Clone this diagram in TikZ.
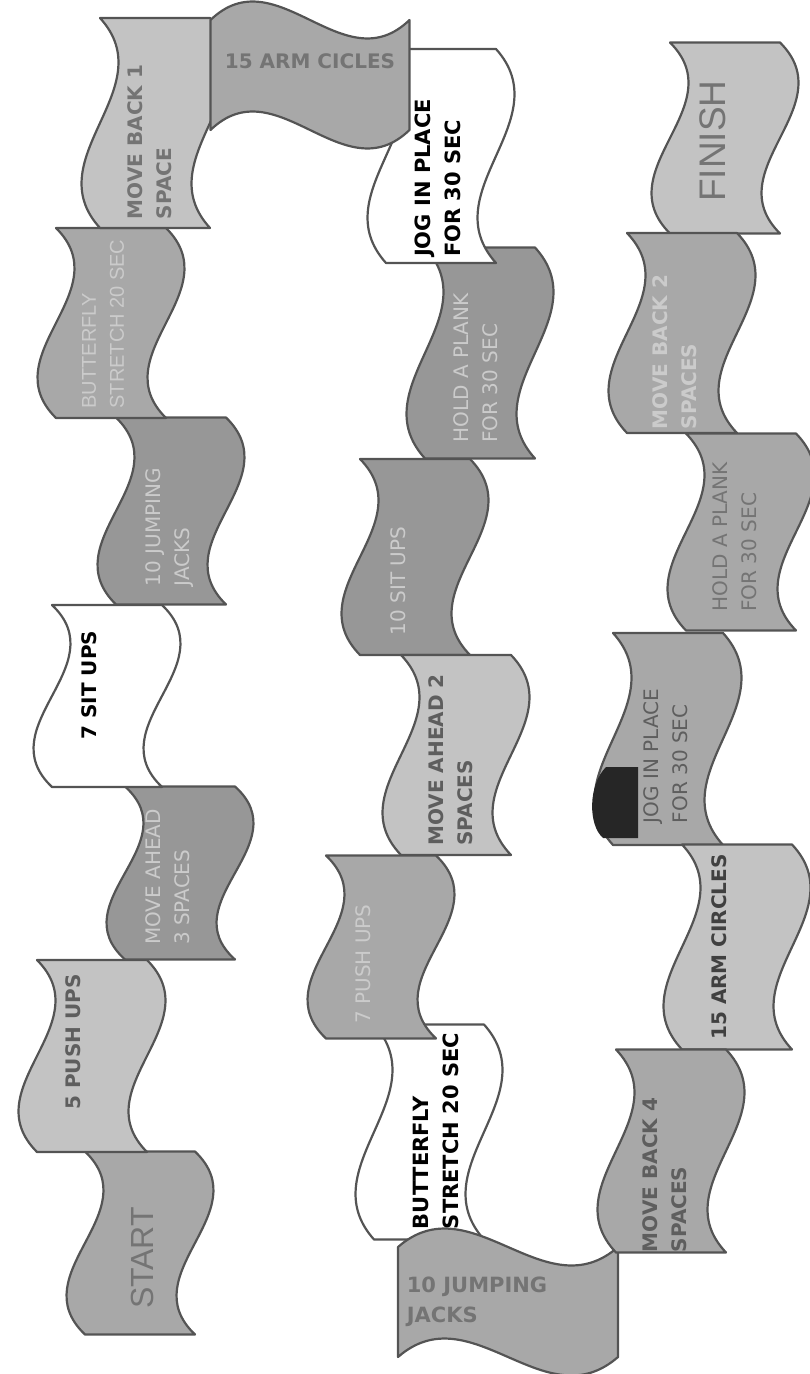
\documentclass[tikz,border=0pt]{standalone}
\usepackage{fontspec}
\setmainfont{DejaVu Sans}
\newfontfamily\arialfont{Liberation Sans}
\usepackage{tikz}

\definecolor{tileedge}{HTML}{545454}
\definecolor{greylight}{HTML}{C3C3C3}
\definecolor{greymid}{HTML}{A8A8A8}
\definecolor{greydark}{HTML}{979797}
\definecolor{inkdark}{HTML}{5E5E5E}
\definecolor{inkgrey}{HTML}{747474}
\definecolor{inklight}{HTML}{CBCBCB}

\newcommand{\tileh}{55}
\newcommand{\tilec}{64}
% one wavy square of the board: centre, turn, length, fill
\newcommand{\wavetile}[4]{%
  \begin{scope}[shift={#1},rotate=#2]
    \filldraw[tile,fill=#4] (-#3/2,-\tileh) .. controls (-#3/6,-\tileh+\tilec) and (#3/6,-\tileh-\tilec) .. (#3/2,-\tileh)
      -- (#3/2,\tileh) .. controls (#3/6,\tileh-\tilec) and (-#3/6,\tileh+\tilec) .. (-#3/2,\tileh) -- cycle;
  \end{scope}}

\tikzset{
  tile/.style={draw=tileedge,line width=1.1pt,line join=round},
  boldtext/.style={font=\fontsize{10}{14.5}\selectfont\bfseries,align=left,inner sep=0pt},
  thintext/.style={font=\fontsize{10}{14.5}\selectfont,align=left,inner sep=0pt},
  armtext/.style={font=\arialfont\fontsize{10}{14}\selectfont,align=left,inner sep=0pt},
  bigtext/.style={font=\arialfont\fontsize{16}{18}\selectfont,inner sep=0pt,text=inkgrey},
}

\begin{document}
\begin{tikzpicture}[x=0.5pt,y=0.5pt]
        \useasboundingbox (0,0) rectangle (809,-1374);

        % first column, going up
        \wavetile{(140,-1243)}{90}{183}{greymid}
        \node[bigtext,rotate=90] (start) at (142,-1258) {START};

        \wavetile{(92,-1056)}{90}{192}{greylight}
        \node[boldtext,rotate=90,text=inkdark] (push5) at (73,-1042) {5 PUSH UPS};

        \wavetile{(180,-873)}{90}{173}{greydark}
        \node[thintext,rotate=90,text=inklight] (ahead3) at (168,-877) {MOVE AHEAD\\3 SPACES};

        \wavetile{(107,-696)}{90}{182}{white}
        \node[boldtext,rotate=90] (sit7) at (89,-685) {7 SIT UPS};

        \wavetile{(171,-511)}{90}{187}{greydark}
        \node[thintext,rotate=90,text=inklight] (jacks10a) at (170,-527) {10 JUMPING\\JACKS};

        \wavetile{(111,-323)}{90}{190}{greymid}
        \node[armtext,rotate=90,text=inklight] (stretcha) at (103,-324) {BUTTERFLY\\STRETCH 20 SEC};

        \wavetile{(155,-123)}{90}{210}{greylight}
        \node[boldtext,rotate=90,text=inkgrey] (back1) at (150,-142) {MOVE BACK 1\\SPACE};

        % second column, top part
        \wavetile{(480,-353)}{90}{211}{greydark}
        \node[thintext,rotate=90,text=inklight] (plank2) at (476,-368) {HOLD A PLANK\\FOR 30 SEC};

        \wavetile{(441,-156)}{90}{214}{white}
        \node[boldtext,rotate=90,font=\fontsize{10.5}{15}\selectfont\bfseries] (jog2) at (438,-178) {JOG IN PLACE\\FOR 30 SEC};

        \wavetile{(310,-75)}{0}{199}{greymid}
        \node[boldtext,text=inkgrey] (armtop) at (310,-61) {15 ARM CICLES};

        % second column, lower part
        \wavetile{(415,-557)}{90}{196}{greydark}
        \node[thintext,rotate=90,text=inklight] (sit10) at (398,-581) {10 SIT UPS};

        \wavetile{(456,-755)}{90}{200}{greylight}
        \node[boldtext,rotate=90,text=inkdark] (ahead2) at (451,-760) {MOVE AHEAD 2\\SPACES};

        \wavetile{(429,-1132)}{90}{215}{white}
        \node[boldtext,rotate=90,font=\fontsize{10.5}{15}\selectfont\bfseries] (stretchb) at (436,-1131) {BUTTERFLY\\STRETCH 20 SEC};

        \wavetile{(381,-947)}{90}{183}{greymid}
        \node[thintext,rotate=90,text=inklight] (push7) at (363,-964) {7 PUSH UPS};

        \wavetile{(508,-1302)}{0}{220}{greymid}
        \node[boldtext,text=inkgrey,font=\fontsize{10.5}{15}\selectfont\bfseries] (jacks10b) at (477,-1302) {10 JUMPING\\JACKS};

        % third column, from the top
        \wavetile{(725,-138)}{90}{191}{greylight}
        \node[bigtext,rotate=90,font=\arialfont\fontsize{18.5}{20}\selectfont] (finish) at (713,-141) {FINISH};

        \wavetile{(682,-333)}{90}{200}{greymid}
        \node[boldtext,rotate=90,text=inklight] (back2) at (675,-352) {MOVE BACK 2\\SPACES};

        \wavetile{(741,-532)}{90}{197}{greymid}
        \node[thintext,rotate=90,text=inkgrey] (plank3) at (735,-537) {HOLD A PLANK\\FOR 30 SEC};

        \wavetile{(668,-739)}{90}{212}{greymid}
        \fill[black!85] (638,-767) -- (606,-767) .. controls (588,-785) and (588,-825) .. (603,-838) -- (638,-838) -- cycle;
        \node[thintext,rotate=90,text=inkdark] (jog3) at (666,-756) {JOG IN PLACE\\FOR 30 SEC};

        \wavetile{(737,-947)}{90}{205}{greylight}
        \node[boldtext,rotate=90,text=black!75] (arm3) at (719,-947) {15 ARM CIRCLES};

        \wavetile{(671,-1151)}{90}{203}{greymid}
        \node[boldtext,rotate=90,text=inkdark] (back4) at (665,-1175) {MOVE BACK 4\\SPACES};
\end{tikzpicture}
\end{document}
